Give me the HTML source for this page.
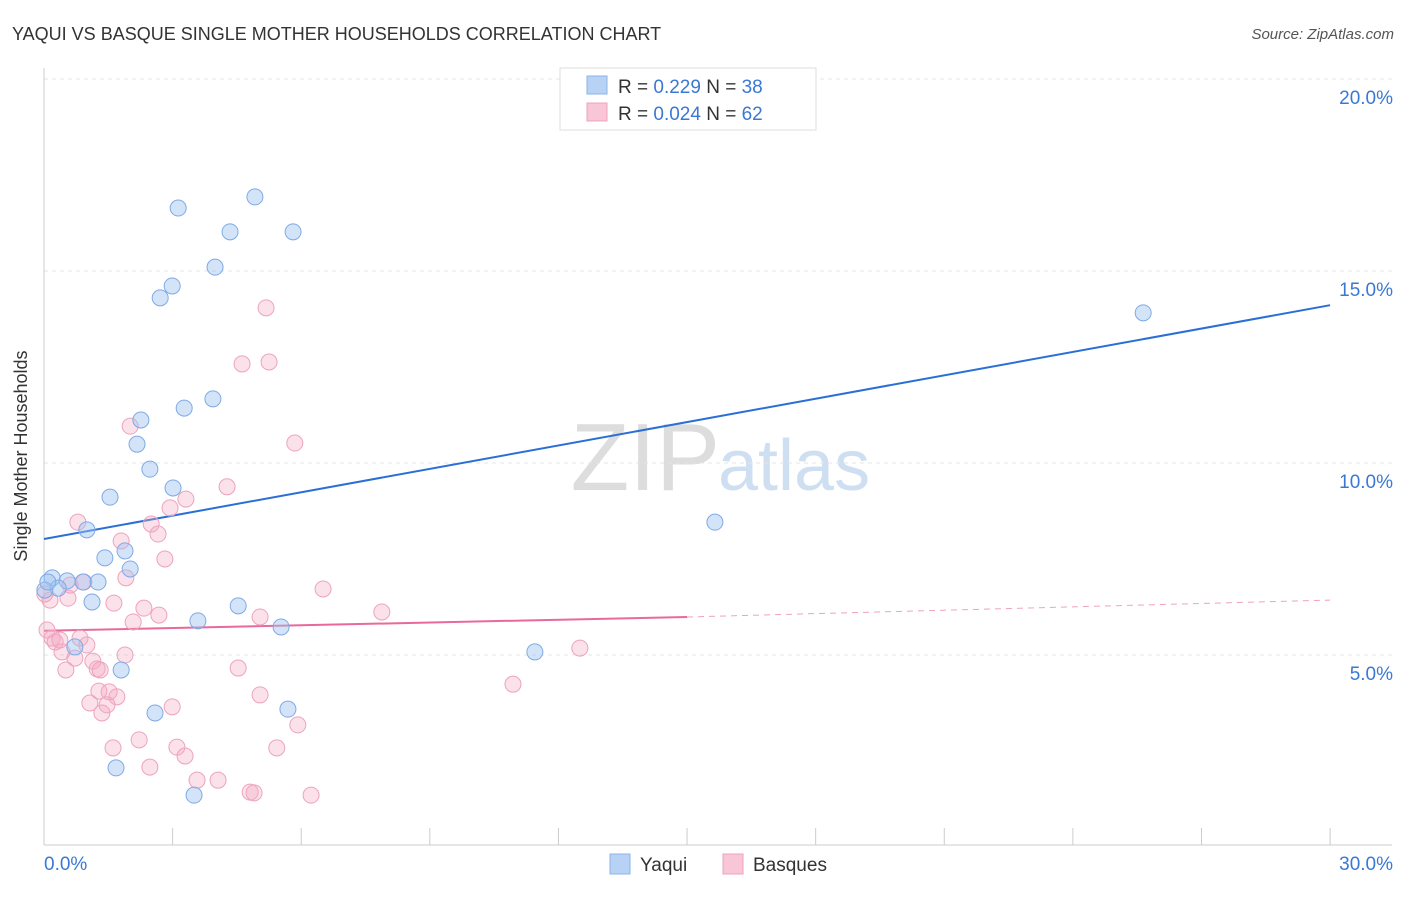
<!DOCTYPE html>
<html><head><meta charset="utf-8">
<style>
body{margin:0;background:#fff;font-family:"Liberation Sans",sans-serif;}
svg text{font-family:"Liberation Sans",sans-serif;}
</style></head>
<body>
<svg width="1406" height="892" viewBox="0 0 1406 892">
<text x="12" y="40" font-size="18" fill="#333">YAQUI VS BASQUE SINGLE MOTHER HOUSEHOLDS CORRELATION CHART</text>
<text x="1394" y="39" font-size="15" fill="#555" font-style="italic" text-anchor="end">Source: ZipAtlas.com</text>
<text x="720" y="490" font-size="96" fill="#ddd" text-anchor="end" font-family="Liberation Serif">ZIP</text>
<text x="718" y="490" font-size="72" fill="#cfdff2">atlas</text>
<g id="grid"></g>
<line x1="44" y1="68" x2="44" y2="845" stroke="#ccc"/>
<line x1="44" y1="845" x2="1392" y2="845" stroke="#ccc"/>
<g id="xticks"></g>
<text x="27" y="456" font-size="18" fill="#333" text-anchor="middle" transform="rotate(-90 27 456)">Single Mother Households</text>
<g id="trend"></g>
<g id="points"></g>
<g>
<rect x="560" y="68" width="256" height="62" fill="#fff" stroke="#ddd"/>
<rect x="587" y="76" width="20" height="18" fill="#b8d2f5" stroke="#8ab4e8"/>
<rect x="587" y="103" width="20" height="18" fill="#f8c6d6" stroke="#eea3bd"/>
<text x="618" y="93" font-size="19" fill="#333">R = <tspan fill="#3a78d4">0.229</tspan>   N = <tspan fill="#3a78d4">38</tspan></text>
<text x="618" y="120" font-size="19" fill="#333">R = <tspan fill="#3a78d4">0.024</tspan>   N = <tspan fill="#3a78d4">62</tspan></text>
</g>
<g>
<rect x="610" y="854" width="20" height="20" fill="#b8d2f5" stroke="#8ab4e8"/>
<text x="640" y="871" font-size="19" fill="#333">Yaqui</text>
<rect x="723" y="854" width="20" height="20" fill="#f8c6d6" stroke="#eea3bd"/>
<text x="753" y="871" font-size="19" fill="#333">Basques</text>
</g>
</svg>
<script>
const yaquiX=[3.13,4.92,4.34,5.81,3.99,2.99,2.71,3.94,3.27,2.26,2.17,2.47,3.01,1.54,1.00,1.89,1.42,2.01,0.19,0.54,1.26,0.91,0.33,0.02,1.12,4.53,3.59,5.53,0.72,1.80,2.59,5.69,1.68,3.50,11.45,15.65,25.64,0.09];
const yaquiY=[16.64,16.93,16.02,16.02,15.10,14.61,14.30,11.67,11.43,11.12,10.49,9.84,9.35,9.11,8.26,7.71,7.53,7.24,7.01,6.93,6.90,6.90,6.74,6.69,6.38,6.28,5.89,5.73,5.21,4.61,3.49,3.59,2.06,1.35,5.08,8.46,13.91,6.90];
const basqueX=[5.18,4.62,5.25,5.85,2.01,4.27,3.31,2.94,0.79,2.50,2.66,1.80,2.82,1.91,0.93,0.56,1.63,2.33,2.68,5.04,6.51,7.88,2.08,0.19,0.84,0.26,1.00,0.42,0.72,1.89,1.14,1.24,0.51,4.53,12.50,1.28,1.52,1.70,1.07,1.47,1.35,2.99,5.04,5.92,2.22,1.61,3.10,5.43,3.29,2.47,3.57,4.06,4.81,4.90,6.23,10.94,0.07,0.14,0.02,0.61,0.37,1.31];
const basqueY=[14.04,12.58,12.63,10.52,10.96,9.38,9.06,8.83,8.46,8.41,8.15,7.97,7.50,7.01,6.90,6.48,6.35,6.22,6.04,5.99,6.72,6.12,5.86,5.44,5.44,5.34,5.26,5.08,4.92,5.00,4.84,4.64,4.61,4.66,5.18,4.06,4.04,3.91,3.75,3.70,3.49,3.65,3.96,3.18,2.79,2.58,2.60,2.58,2.37,2.08,1.74,1.74,1.43,1.41,1.35,4.24,5.65,6.43,6.59,6.82,5.39,4.61];
const yTicks=[5,10,15,20];
const yTickLabels=["5.0%","10.0%","15.0%","20.0%"];
const xTickVals=[0,3,6,9,12,15,18,21,24,27,30];
const yaquiTrend=[8.02,14.11];
const basqueTrend=[5.63,5.99,6.43];
const NS='http://www.w3.org/2000/svg';
const sx=v=>44+v*42.87, sy=v=>847-v*38.4;
function mk(t,a,p){const e=document.createElementNS(NS,t);for(const k in a)e.setAttribute(k,a[k]);p.appendChild(e);return e;}
const grid=document.getElementById('grid');
yTicks.forEach((v,i)=>{
 const l=mk('line',{x1:44,x2:1392,y1:sy(v),y2:sy(v),stroke:'#e4e4e4','stroke-dasharray':'4,4'},grid);
 
 
 const t=mk('text',{x:1393,y:sy(v)+25,'font-size':19,fill:'#3a78d4','text-anchor':'end'},grid);
 t.textContent=yTickLabels[i];
 
 
});
mk('line',{x1:44,x2:1392,y1:79,y2:79,stroke:'#e4e4e4','stroke-dasharray':'4,4'},grid);
const xt=document.getElementById('xticks');
xTickVals.forEach(v=>{
 const l=mk('line',{x1:sx(v),x2:sx(v),y1:828,y2:845,stroke:'#ccc'},xt);
 
 
});
const x0=mk('text',{x:44,y:870,'font-size':19,fill:'#3a78d4'},xt);x0.textContent='0.0%';


const x1=mk('text',{x:1393,y:870,'font-size':19,fill:'#3a78d4','text-anchor':'end'},xt);x1.textContent='30.0%';


const pts=document.getElementById('points');
basqueX.forEach((x,i)=>{
 const c=mk('circle',{cx:sx(x),cy:sy(basqueY[i]),r:8,fill:'rgba(244,170,196,0.35)',stroke:'#eea3bd','stroke-width':1},pts);
 
 
});
yaquiX.forEach((x,i)=>{
 const c=mk('circle',{cx:sx(x),cy:sy(yaquiY[i]),r:8,fill:'rgba(160,196,240,0.45)',stroke:'#7eaae6','stroke-width':1},pts);
 
 
});
const tr=document.getElementById('trend');
const b=mk('line',{x1:sx(0),y1:sy(yaquiTrend[0]),x2:sx(30),y2:sy(yaquiTrend[1]),stroke:'#2a6fd6','stroke-width':2},tr);


const p1=mk('line',{x1:sx(0),y1:sy(basqueTrend[0]),x2:sx(15),y2:sy(basqueTrend[1]),stroke:'#e8699a','stroke-width':2},tr);


const p2=mk('line',{x1:sx(15),y1:sy(basqueTrend[1]),x2:sx(30),y2:sy(basqueTrend[2]),stroke:'#eea3bd','stroke-width':1,'stroke-dasharray':'6,5'},tr);


</script>
</body></html>
